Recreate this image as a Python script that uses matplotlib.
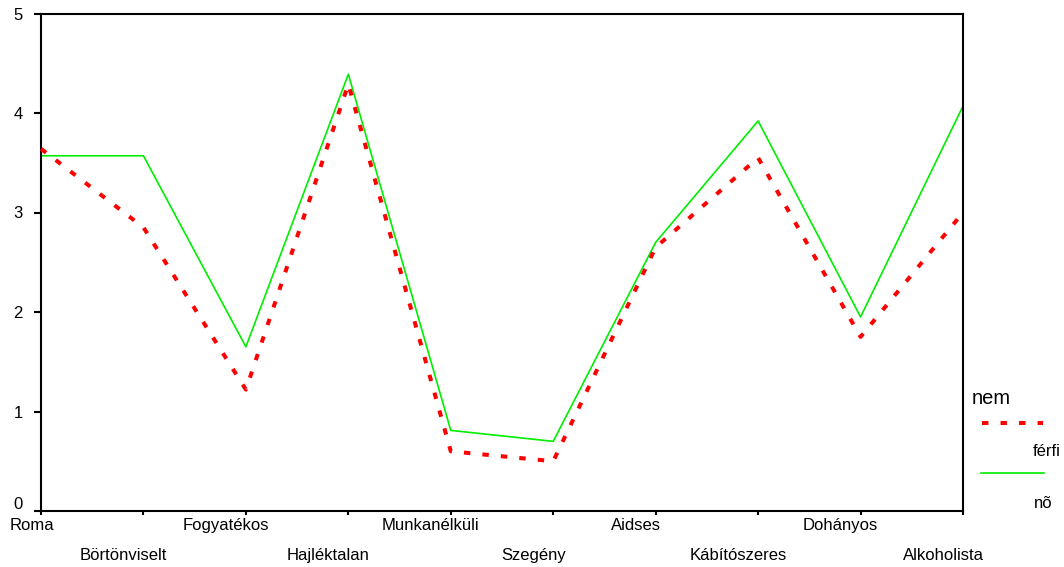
import matplotlib
matplotlib.use('Agg')
from matplotlib import pyplot as plt
from matplotlib.lines import Line2D
from matplotlib.transforms import ScaledTranslation
import numpy as np

categories = ['Roma', 'Börtönviselt', 'Fogyatékos', 'Hajléktalan', 'Munkanélküli',
              'Szegény', 'Aidses', 'Kábítószeres', 'Dohányos', 'Alkoholista']
ferfi = [3.64, 2.85, 1.22, 4.29, 0.60, 0.50, 2.65, 3.55, 1.75, 3.00]
no = [3.57, 3.57, 1.65, 4.39, 0.81, 0.70, 2.70, 3.92, 1.95, 4.07]
yticks = [0, 1, 2, 3, 4, 5]

plt.rcParams['font.family'] = ['Liberation Sans', 'DejaVu Sans']

fig = plt.figure(figsize=(10.64, 5.67), dpi=100)
ax = fig.add_axes([41/1064, 1-511/567, (963-41)/1064, (511-13.5)/567])

x = np.arange(len(categories))
ax.plot(x, ferfi, color='#ff0000', lw=2.9, dashes=(1.6, 3), dash_capstyle='butt',
        clip_on=False, zorder=3)
ax.plot(x, no, color='#00ee00', lw=1.2, clip_on=False, zorder=2)

ax.set_xlim(0, len(categories)-1)
ax.set_ylim(0, 5)
ax.set_yticks(yticks)
ax.set_yticklabels([str(v) for v in yticks])
ax.set_xticks(x)
ax.set_xticklabels(categories)
for s in ax.spines.values():
    s.set_linewidth(1.5)
ax.tick_params(axis='y', direction='out', length=5, width=1.5, pad=8, labelsize=12)
ax.tick_params(axis='x', direction='out', length=3, width=1.5, pad=2, labelsize=12)

for i, lab in enumerate(ax.get_xticklabels()):
    dy = -30/100 if i % 2 else 0
    dx = -9/100 if i == 0 else -20/100
    lab.set_transform(lab.get_transform() + ScaledTranslation(dx, dy, fig.dpi_scale_trans))
ylabs = ax.get_yticklabels()
ylabs[0].set_transform(ylabs[0].get_transform() + ScaledTranslation(0, 8/100, fig.dpi_scale_trans))

# legend
fig.text(972/1064, 1-398/567, 'nem', fontsize=14.5, va='center', ha='left')
fig.add_artist(Line2D([982/1064, 1043/1064], [1-423/567, 1-423/567], color='#ff0000',
                      lw=2.9, dashes=(1.6, 3), dash_capstyle='butt'))
fig.text(1033/1064, 1-452/567, 'férfi', fontsize=12, va='center', ha='left')
fig.add_artist(Line2D([981/1064, 1044/1064], [1-473/567, 1-473/567], color='#00ee00', lw=1.2))
fig.text(1034/1064, 1-503/567, 'nõ', fontsize=12, va='center', ha='left')

fig.savefig('out.png', dpi=100)
